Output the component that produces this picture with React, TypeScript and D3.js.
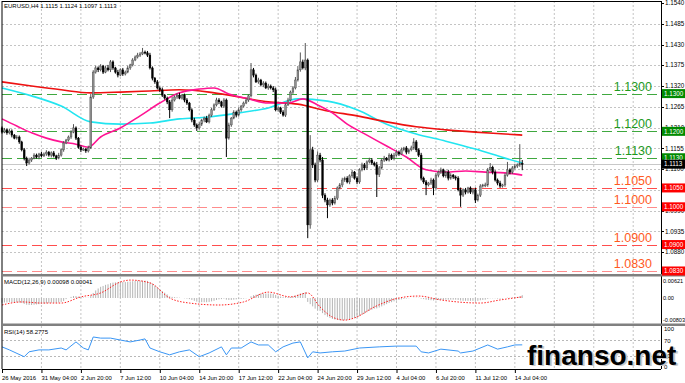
import React from "react";
import * as d3 from "d3";

const W = 685;
const H = 383;

const dateLabels = ["26 May 2016", "31 May 04:00", "2 Jun 20:00", "7 Jun 12:00", "10 Jun 04:00", "14 Jun 20:00", "17 Jun 12:00", "22 Jun 04:00", "24 Jun 20:00", "29 Jun 12:00", "4 Jul 04:00", "6 Jul 20:00", "11 Jul 12:00", "14 Jul 04:00"];
const priceTicks = [1.1540, 1.1485, 1.1430, 1.1375, 1.1320, 1.1265, 1.1210, 1.1155, 1.1100, 1.1045, 1.0990, 1.0935, 1.0880];
const priceTickLabels = ["1.1540", "1.1485", "1.1430", "1.1375", "1.1320", "1.1265", "1.1210", "1.1155", "1.1100", "1.1045", "1.0990", "1.0935", "1.0880"];

const firstOpen = 1.1209;
const closes = [
  1.1198, 1.1204, 1.1196, 1.1201, 1.1190, 1.1182, 1.1185, 1.1172, 1.1151, 1.1129,
  1.1116, 1.1124, 1.1129, 1.1137, 1.1132, 1.1140, 1.1135, 1.1140, 1.1145, 1.1137,
  1.1143, 1.1135, 1.1129, 1.1137, 1.1151, 1.1169, 1.1177, 1.1185, 1.1198, 1.1209,
  1.1182, 1.1158, 1.1151, 1.1153, 1.1148, 1.1156, 1.1291, 1.1357, 1.1368, 1.1363,
  1.1373, 1.1357, 1.1368, 1.1363, 1.1384, 1.1368, 1.1357, 1.1349, 1.1363, 1.1352,
  1.1357, 1.1368, 1.1376, 1.1389, 1.1397, 1.1402, 1.1405, 1.1410, 1.1408, 1.1402,
  1.1368, 1.1341, 1.1331, 1.1315, 1.1310, 1.1296, 1.1288, 1.1278, 1.1257, 1.1283,
  1.1291, 1.1296, 1.1288, 1.1296, 1.1283, 1.1275, 1.1257, 1.1230, 1.1217, 1.1209,
  1.1219, 1.1230, 1.1235, 1.1225, 1.1243, 1.1257, 1.1270, 1.1283, 1.1278, 1.1267,
  1.1283, 1.1182, 1.1217, 1.1235, 1.1251, 1.1243, 1.1257, 1.1267, 1.1275, 1.1283,
  1.1294, 1.1363, 1.1349, 1.1331, 1.1336, 1.1323, 1.1328, 1.1315, 1.1320, 1.1315,
  1.1310, 1.1257, 1.1262, 1.1251, 1.1243, 1.1270, 1.1283, 1.1304, 1.1315, 1.1336,
  1.1363, 1.1384, 1.1368, 1.1389, 1.0952, 1.1151, 1.1111, 1.1071, 1.1137, 1.1124,
  1.1031, 1.1018, 1.1005, 1.1018, 1.1010, 1.1023, 1.1050, 1.1058, 1.1071, 1.1076,
  1.1066, 1.1082, 1.1092, 1.1076, 1.1066, 1.1098, 1.1111, 1.1103, 1.1119, 1.1124,
  1.1116, 1.1111, 1.1085, 1.1103, 1.1124, 1.1129, 1.1124, 1.1137, 1.1129, 1.1137,
  1.1145, 1.1140, 1.1151, 1.1156, 1.1145, 1.1151, 1.1156, 1.1172, 1.1151, 1.1137,
  1.1076, 1.1066, 1.1058, 1.1063, 1.1071, 1.1050, 1.1084, 1.1092, 1.1098, 1.1082,
  1.1092, 1.1076, 1.1084, 1.1079, 1.1076, 1.1045, 1.1031, 1.1045, 1.1039, 1.1050,
  1.1039, 1.1045, 1.1018, 1.1031, 1.1055, 1.1058, 1.1058, 1.1098, 1.1105, 1.1092,
  1.1071, 1.1063, 1.1055, 1.1058, 1.1084, 1.1098, 1.1092, 1.1103, 1.1108, 1.1111,
  1.1115, 1.1113,
];
// wick lengths in pips above max(open, close) and below min(open, close)
const wickUp = [
  4, 5, 3, 6, 4, 3, 5, 4, 3, 5, 4, 6, 3, 5, 4, 3, 6, 4, 5, 3,
  4, 5, 3, 6, 4, 5, 3, 4, 5, 10, 4, 3, 5, 4, 3, 6, 8, 5, 6, 4,
  5, 3, 6, 8, 5, 4, 3, 6, 4, 5, 4, 6, 3, 5, 4, 6, 5, 11, 4, 5,
  6, 4, 3, 5, 4, 6, 3, 4, 5, 8, 4, 5, 6, 3, 4, 5, 3, 4, 6, 4,
  5, 3, 4, 6, 4, 5, 4, 6, 5, 3, 5, 4, 6, 3, 5, 4, 6, 3, 4, 5,
  4, 18, 5, 4, 6, 3, 5, 4, 6, 4, 5, 6, 4, 3, 5, 4, 6, 4, 5, 8,
  10, 25, 6, 45, 4, 39, 8, 6, 10, 6, 8, 5, 6, 4, 5, 6, 4, 5, 6, 4,
  5, 4, 6, 3, 5, 4, 6, 5, 4, 6, 5, 4, 8, 5, 4, 6, 3, 5, 4, 6,
  5, 4, 6, 3, 5, 4, 6, 10, 5, 4, 6, 4, 5, 3, 6, 4, 5, 4, 6, 3,
  4, 6, 5, 3, 4, 5, 6, 4, 5, 3, 4, 5, 6, 4, 5, 3, 6, 5, 11, 4,
  5, 4, 6, 3, 5, 21, 4, 5, 6, 4, 51, 9,
];
const wickDn = [
  4, 3, 5, 4, 6, 3, 4, 5, 4, 6, 8, 4, 5, 3, 4, 6, 4, 3, 5, 4,
  6, 4, 5, 3, 4, 5, 3, 4, 5, 3, 5, 4, 6, 3, 5, 4, 3, 5, 4, 6,
  4, 5, 3, 4, 6, 5, 4, 6, 3, 5, 4, 3, 5, 4, 3, 4, 5, 3, 4, 5,
  4, 6, 5, 4, 6, 5, 4, 6, 22, 5, 4, 5, 3, 4, 6, 5, 4, 6, 5, 8,
  4, 5, 6, 3, 4, 5, 3, 4, 6, 4, 5, 50, 4, 5, 3, 6, 4, 5, 4, 3,
  5, 4, 6, 3, 5, 4, 6, 3, 5, 4, 6, 4, 5, 5, 4, 5, 3, 4, 5, 4,
  4, 5, 4, 6, 35, 10, 8, 6, 5, 6, 8, 6, 35, 5, 6, 4, 5, 4, 6, 5,
  4, 6, 5, 4, 6, 5, 4, 6, 5, 4, 5, 4, 59, 6, 4, 5, 3, 4, 5, 6,
  4, 5, 3, 4, 6, 5, 4, 5, 6, 5, 6, 5, 27, 4, 5, 19, 4, 6, 5, 4,
  5, 6, 4, 5, 6, 4, 31, 5, 6, 4, 5, 6, 8, 4, 5, 4, 6, 5, 4, 6,
  4, 6, 5, 4, 5, 4, 6, 5, 4, 5, 5, 16,
];

// moving averages read at bar indices
const maSlow: [number, number][] = [[0, 1.1331], [12, 1.1320], [24, 1.1310], [36, 1.1302], [48, 1.1304], [60, 1.1307], [72, 1.1310], [84, 1.1304], [96, 1.1291], [108, 1.1278], [120, 1.1272], [132, 1.1254], [144, 1.1241], [156, 1.1225], [168, 1.1212], [180, 1.1204], [192, 1.1198], [204, 1.1193], [211, 1.1190]];
const maMid: [number, number][] = [[0, 1.1315], [12, 1.1294], [24, 1.1267], [36, 1.1225], [48, 1.1219], [60, 1.1222], [72, 1.1233], [84, 1.1238], [96, 1.1249], [108, 1.1262], [120, 1.1286], [132, 1.1280], [144, 1.1257], [156, 1.1219], [168, 1.1193], [180, 1.1174], [192, 1.1153], [204, 1.1129], [211, 1.1116]];
const maFast: [number, number][] = [[0, 1.1233], [6, 1.1214], [12, 1.1196], [18, 1.1182], [24, 1.1172], [30, 1.1166], [35, 1.1158], [40, 1.1185], [48, 1.1209], [56, 1.1241], [64, 1.1275], [72, 1.1302], [80, 1.1312], [86, 1.1315], [92, 1.1299], [100, 1.1286], [108, 1.1275], [116, 1.1275], [122, 1.1286], [128, 1.1270], [134, 1.1249], [140, 1.1219], [148, 1.1190], [156, 1.1161], [164, 1.1132], [172, 1.1098], [180, 1.1092], [188, 1.1095], [196, 1.1092], [204, 1.1090], [211, 1.1084]];

const levels = [1.1300, 1.1200, 1.1130, 1.1050, 1.1000, 1.0900, 1.0830];
const levelLabels = ["1.1300", "1.1200", "1.1130", "1.1050", "1.1000", "1.0900", "1.0830"];
const levelKinds = ["g", "g", "g", "r", "r2", "r", "r2"];
const currentPrice = 1.1113;

// MACD main (x 0.0001)
const macdMain = [
  -17, -16, -16, -15, -15, -15, -15, -16, -18, -21, -24, -25, -25, -24, -23, -22, -21, -20, -19, -18,
  -17, -17, -17, -16, -14, -11, -4, 0, 4, 7, 7, 5, 3, 2, 1, 1, 8, 18, 27, 34,
  40, 43, 47, 49, 53, 55, 56, 56, 57, 57, 57, 58, 59, 60, 61, 62, 62, 62, 62, 61,
  57, 51, 45, 38, 32, 25, 19, 13, 6, 4, 3, 2, 1, 0, -1, -2, -4, -7, -10, -13,
  -14, -15, -15, -15, -14, -12, -10, -7, -5, -4, -2, -6, -7, -7, -6, -5, -4, -3, -2, -1,
  0, 6, 10, 12, 14, 15, 16, 16, 16, 16, 15, 11, 8, 5, 3, 3, 3, 4, 6, 8,
  12, 16, 18, 21, -14, -22, -30, -38, -42, -46, -54, -61, -67, -71, -75, -77, -78, -79, -80, -79,
  -78, -76, -73, -71, -69, -65, -60, -56, -51, -46, -42, -38, -37, -34, -30, -26, -22, -18, -15, -12,
  -9, -7, -5, -3, -2, -1, 0, 1, 1, 1, -2, -4, -6, -7, -8, -9, -8, -7, -7, -7,
  -6, -6, -6, -6, -6, -7, -9, -10, -10, -10, -10, -10, -11, -10, -8, -7, -6, -3, -1, -1,
  -1, -2, -2, -2, 0, 1, 1, 2, 3, 4, 6, 10,
];
const macdSignal: [number, number][] = [[0, -25], [8, -14], [16, -18], [24, -18], [32, 4], [40, 18], [48, 57], [52, 64], [60, 54], [68, 0], [76, -18], [88, -25], [98, -14], [108, 21], [117, 4], [124, 18], [129, -32], [134, -68], [139, -79], [143, -71], [151, -32], [161, 0], [169, 7], [178, -7], [194, -18], [202, -7], [211, 4]];

const rsi: [number, number][] = [[0, 53], [3, 45], [9, 27], [11, 40], [15, 45], [19, 45], [24, 50], [26, 45], [30, 66], [33, 50], [35, 45], [37, 79], [40, 76], [44, 76], [48, 71], [52, 66], [56, 71], [58, 74], [60, 50], [64, 40], [68, 32], [72, 40], [76, 45], [80, 27], [84, 37], [89, 53], [91, 32], [93, 50], [97, 50], [101, 66], [104, 58], [108, 58], [111, 40], [114, 53], [118, 63], [121, 66], [124, 24], [126, 40], [129, 37], [134, 40], [139, 42], [145, 50], [153, 53], [160, 55], [168, 55], [170, 40], [173, 37], [178, 47], [185, 42], [186, 37], [191, 42], [197, 58], [201, 47], [205, 53], [208, 58], [211, 58.28]];

const FONT = "'Liberation Sans', Arial, sans-serif";

export default function App() {
  const xs = d3.scaleLinear().domain([0, 16]).range([2, 41.45]);
  const yMain = d3.scaleLinear().domain([1.0822, 1.1548]).range([274, 0]);
  const yMacd = d3.scaleLinear().domain([-0.00964, 0.0075]).range([325, 277]);
  const yRsi = d3.scaleLinear().domain([0, 100]).range([367, 329]);

  const L = 2, R = 661;
  const gridXs = d3.range(1, 17).map((k) => xs(k * 16));

  const candles = closes.map((c, i) => {
    const o = i === 0 ? firstOpen : closes[i - 1];
    const h = Math.max(o, c) + wickUp[i] * 1e-4;
    const l = Math.min(o, c) - wickDn[i] * 1e-4;
    return { i, o, h, l, c };
  });

  const lineMain = d3.line<[number, number]>().x((d) => xs(d[0])).y((d) => yMain(d[1])).curve(d3.curveMonotoneX);
  const lineSig = d3.line<[number, number]>().x((d) => xs(d[0])).y((d) => yMacd(d[1] * 1e-4)).curve(d3.curveMonotoneX);
  const lineRsi = d3.line<[number, number]>().x((d) => xs(d[0])).y((d) => yRsi(d[1]));

  const lvlColor = (k: string) => (k === "g" ? "#3fa83f" : k === "r" ? "#ff4d4d" : "#ff8c8c");
  const lblColor = (k: string) => (k === "g" ? "#1e9a1e" : "#ff5a1e");
  const boxColor = (k: string) => (k === "g" ? "#008a00" : "#ff0000");

  return (
    <svg width={W} height={H} style={{ position: "absolute", left: 0, top: 0, background: "#fff" }} fontFamily={FONT}>
      <rect x={0} y={0} width={W} height={H} fill="#fff" />
      {/* grid */}
      {gridXs.map((x, k) => (
        <g key={"gx" + k}>
          <line x1={x} x2={x} y1={1} y2={274} stroke="#c4c4c4" strokeDasharray="2,2" />
          <line x1={x} x2={x} y1={277} y2={323} stroke="#c4c4c4" strokeDasharray="2,2" />
          <line x1={x} x2={x} y1={326} y2={369} stroke="#c4c4c4" strokeDasharray="2,2" />
        </g>
      ))}
      {priceTicks.slice(1).map((p, k) => (
        <line key={"gy" + k} x1={L} x2={R} y1={Math.round(yMain(p)) + 0.5} y2={Math.round(yMain(p)) + 0.5} stroke="#c4c4c4" strokeDasharray="2,2" />
      ))}
      {[70, 30].map((v) => (
        <line key={"rl" + v} x1={L} x2={R} y1={Math.round(yRsi(v)) + 0.5} y2={Math.round(yRsi(v)) + 0.5} stroke="#b8b8b8" strokeDasharray="2,2" />
      ))}

      {/* horizontal levels */}
      {levels.map((p, k) => (
        <line key={"lv" + k} x1={L} x2={R} y1={Math.round(yMain(p)) + 0.5} y2={Math.round(yMain(p)) + 0.5} stroke={lvlColor(levelKinds[k])} strokeWidth={1.2} strokeDasharray="10,5" />
      ))}
      <line x1={L} x2={R} y1={Math.round(yMain(currentPrice)) + 0.5} y2={Math.round(yMain(currentPrice)) + 0.5} stroke="#c8c8c8" />

      {/* moving averages */}
      <path d={lineMain(maMid) || ""} fill="none" stroke="#22e5f0" strokeWidth={1.6} />
      <path d={lineMain(maSlow) || ""} fill="none" stroke="#ee1111" strokeWidth={1.6} />
      <path d={lineMain(maFast) || ""} fill="none" stroke="#ff1493" strokeWidth={1.6} />

      {/* candles */}
      {candles.map((d) => {
        const x = xs(d.i);
        const up = d.c >= d.o;
        const top = yMain(Math.max(d.o, d.c));
        const bot = yMain(Math.min(d.o, d.c));
        return (
          <g key={"c" + d.i}>
            <line x1={x} x2={x} y1={yMain(d.h)} y2={yMain(d.l)} stroke={up ? "#555" : "#000"} strokeWidth={1} />
            <rect x={x - 0.9} y={top} width={1.8} height={Math.max(1, bot - top)} fill={up ? "#8f8f8f" : "#000"} stroke={up ? "#444" : "#000"} strokeWidth={0.4} />
          </g>
        );
      })}

      {/* level labels */}
      {levels.map((p, k) => (
        <text key={"lt" + k} x={652} y={yMain(p) - 3} textAnchor="end" fontSize={12.5} fill={lblColor(levelKinds[k])}>
          {levelLabels[k]}
        </text>
      ))}

      {/* MACD */}
      {macdMain.map((v, i) => (
        <line key={"m" + i} x1={xs(i)} x2={xs(i)} y1={yMacd(0)} y2={yMacd(v * 1e-4)} stroke="#b4b4b4" strokeWidth={1} />
      ))}
      <path d={lineSig(macdSignal) || ""} fill="none" stroke="#ff2020" strokeWidth={1} strokeDasharray="1.5,1.5" />

      {/* RSI */}
      <path d={lineRsi(rsi) || ""} fill="none" stroke="#3a96f5" strokeWidth={1} />

      {/* frames */}
      <line x1={L} x2={L} y1={1} y2={369} stroke="#000" />
      <line x1={L} x2={R} y1={1.5} y2={1.5} stroke="#000" />
      <line x1={R + 0.5} x2={R + 0.5} y1={1} y2={369} stroke="#000" />
      <rect x={L} y={274} width={W - L} height={2.5} fill="#808080" />
      <rect x={L} y={323.5} width={W - L} height={2.5} fill="#808080" />
      <line x1={L} x2={R} y1={369.5} y2={369.5} stroke="#000" />

      {/* price axis */}
      {priceTicks.map((p, k) => (
        <g key={"pt" + k}>
          <line x1={R} x2={R + 3} y1={Math.round(yMain(p)) + 0.5} y2={Math.round(yMain(p)) + 0.5} stroke="#000" />
          <text x={665} y={yMain(p)} dy="0.35em" fontSize={6.3} fill="#000">{priceTickLabels[k]}</text>
        </g>
      ))}
      {levels.map((p, k) => (
        <g key={"pb" + k}>
          <rect x={662} y={yMain(p) - 4.5} width={23} height={9} fill={boxColor(levelKinds[k])} />
          <text x={664} y={yMain(p)} dy="0.35em" fontSize={6.3} fill="#fff">{levelLabels[k]}</text>
        </g>
      ))}
      <rect x={662} y={yMain(currentPrice) - 4.5} width={23} height={9} fill="#000" />
      <text x={664} y={yMain(currentPrice)} dy="0.35em" fontSize={6.3} fill="#fff">1.1113</text>

      {/* MACD axis */}
      {[0.00621, 0, -0.00803].map((v, k) => (
        <text key={"ma" + k} x={663} y={yMacd(v)} dy="0.35em" fontSize={5.6} fill="#000">{["0.00621", "0.00", "-0.00803"][k]}</text>
      ))}
      {/* RSI axis */}
      {[100, 70, 30, 0].map((v) => (
        <text key={"ra" + v} x={664} y={yRsi(v)} dy="0.35em" fontSize={6} fill="#000">{String(v)}</text>
      ))}

      {/* date axis */}
      {dateLabels.map((t, k) => (
        <g key={"dl" + k}>
          <line x1={xs(k * 16) + 0.5} x2={xs(k * 16) + 0.5} y1={369} y2={373} stroke="#000" />
          <text x={xs(k * 16)} y={379.5} fontSize={5.9} fill="#000">{t}</text>
        </g>
      ))}

      {/* titles */}
      <text x={4} y={8} fontSize={6} fill="#000">EURUSD,H4  1.1115 1.1124 1.1097 1.1113</text>
      <text x={4} y={283.5} fontSize={6} fill="#000">MACD(12,26,9) 0.00098 0.00041</text>
      <text x={4} y={334} fontSize={6} fill="#000">RSI(14) 58.2775</text>

      {/* watermark */}
      <text x={529} y={366} fontSize={28} fontWeight="bold" fill="#c8c8c8">finanso.net</text>
      <text x={527} y={365} fontSize={28} fontWeight="bold" fill="#000">finanso.net</text>
    </svg>
  );
}
